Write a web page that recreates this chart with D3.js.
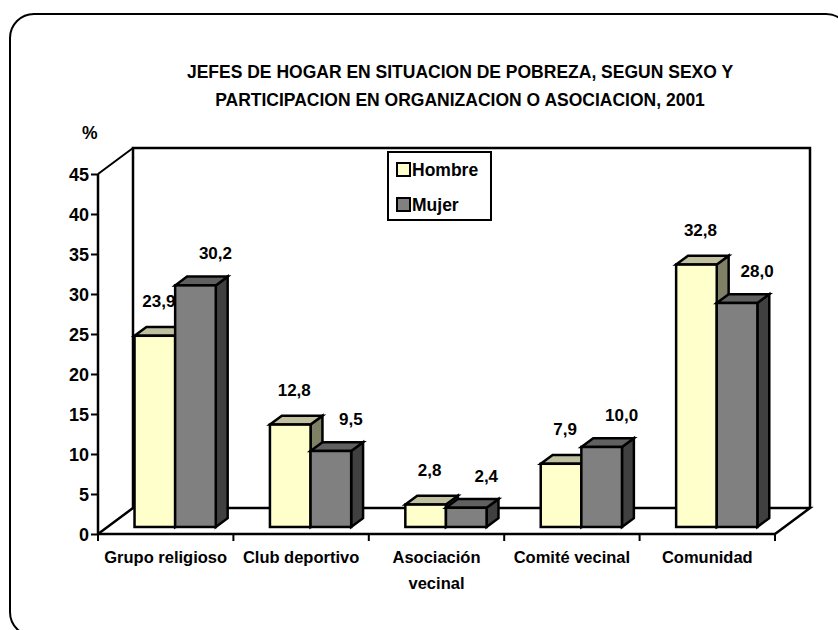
<!DOCTYPE html>
<html>
<head>
<meta charset="utf-8">
<script src="https://cdn.jsdelivr.net/npm/d3@7"></script>
<style>
  body { margin: 0; background: #fff; }
  text { font-family: "Liberation Sans", Arial, sans-serif; font-weight: bold; fill: #000; }
</style>
</head>
<body>
<script>
// data
var categories = ["Grupo religioso", "Club deportivo", "Asociación vecinal", "Comité vecinal", "Comunidad"];
var series = ["Hombre", "Mujer"];
var hombre = [23.9, 12.8, 2.8, 7.9, 32.8];
var mujer = [30.2, 9.5, 2.4, 10.0, 28.0];
var yTicks = [0, 5, 10, 15, 20, 25, 30, 35, 40, 45];
var title = ["JEFES DE HOGAR EN SITUACION DE POBREZA, SEGUN SEXO Y",
             "PARTICIPACION EN ORGANIZACION O ASOCIACION, 2001"];

// colours: front, top, side
var shades = {
  Hombre: ["#FFFFCC", "#C0C0A0", "#808066"],
  Mujer: ["#808080", "#606060", "#404040"]
};

var W = 838, H = 630;
var svg = d3.select("body").append("svg")
  .attr("width", W).attr("height", H);

// outer frame
svg.append("rect")
  .attr("x", 10).attr("y", 14)
  .attr("width", 840).attr("height", 622)
  .attr("rx", 24).attr("ry", 24)
  .attr("fill", "none").attr("stroke", "#000").attr("stroke-width", 2);

// plot geometry (front face) and wall depth
var x0 = 98, x1 = 775, yBase = 534, yTop = 174;
var DX = 35, DY = -26;

var x = d3.scaleBand().domain(categories).range([x0, x1]);
var y = d3.scaleLinear().domain([0, 45]).range([yBase, yTop]);

// walls
var g = svg.append("g");
g.append("path")
  .attr("d", "M" + (x0 + DX) + "," + (yBase + DY) + "V" + (yTop + DY) + "H" + (x1 + DX) + "V" + (yBase + DY))
  .attr("fill", "none").attr("stroke", "#000").attr("stroke-width", 2.5);
// left wall top diagonal
g.append("line")
  .attr("x1", x0).attr("y1", yTop).attr("x2", x0 + DX).attr("y2", yTop + DY)
  .attr("stroke", "#000").attr("stroke-width", 2);
// floor
g.append("path")
  .attr("d", "M" + x0 + "," + yBase + "L" + (x0 + DX) + "," + (yBase + DY) + "H" + (x1 + DX) + "L" + x1 + "," + yBase)
  .attr("fill", "none").attr("stroke", "#000").attr("stroke-width", 2.5);

// bars
var frontF = 0.27, depthF = 0.34;
var bdx = DX * depthF, bdy = DY * depthF;
var groupW = x.bandwidth() * 0.6;
var xs = d3.scaleBand().domain(series).range([0, groupW]);
var vals = { Hombre: hombre, Mujer: mujer };

var bars = [];
categories.forEach(function(c, i) {
  series.forEach(function(s) {
    bars.push({ cat: c, s: s, v: vals[s][i] });
  });
});

var barG = svg.append("g");
bars.forEach(function(d) {
  var bx = x(d.cat) + (x.bandwidth() - groupW) / 2 + xs(d.s) + DX * frontF;
  var bw = xs.bandwidth();
  var by0 = y(0) + DY * frontF;
  var by1 = y(d.v) + DY * frontF;
  d.bx = bx; d.bw = bw; d.by1 = by1;
  var col = shades[d.s];
  var bg = barG.append("g").attr("stroke", "#000").attr("stroke-width", 2.5).attr("stroke-linejoin", "miter");
  // side
  bg.append("path")
    .attr("d", "M" + (bx + bw) + "," + by0 + "V" + by1 + "l" + bdx + "," + bdy + "V" + (by0 + bdy) + "Z")
    .attr("fill", col[2]);
  // top
  bg.append("path")
    .attr("d", "M" + bx + "," + by1 + "l" + bdx + "," + bdy + "h" + bw + "l" + (-bdx) + "," + (-bdy) + "Z")
    .attr("fill", col[1]);
  // front
  bg.append("rect")
    .attr("x", bx).attr("y", by1).attr("width", bw).attr("height", by0 - by1)
    .attr("fill", col[0]);
});

// value labels
svg.append("g").selectAll("text").data(bars).join("text")
  .attr("x", function(d) { return d.bx + d.bw / 2 + (d.s === "Hombre" ? 4 : 20); })
  .attr("y", function(d) { return d.by1 - (d.s === "Hombre" ? 29 : 26); })
  .attr("text-anchor", "middle")
  .attr("font-size", 17)
  .text(function(d) { return d3.format(".1f")(d.v).replace(".", ","); });

// y axis
var yAxis = svg.append("g").attr("transform", "translate(" + x0 + ",0)")
  .call(d3.axisLeft(y).tickValues(yTicks).tickSize(7).tickPadding(2));
yAxis.select(".domain").attr("stroke-width", 2.5).attr("d", "M0," + yTop + "V" + yBase);
yAxis.selectAll(".tick line").attr("stroke-width", 2);
yAxis.selectAll(".tick text").attr("font-size", 18).attr("font-family", null).attr("dy", "0.36em");
yAxis.attr("font-family", null).attr("font-size", null);

// x axis front line with ticks at band edges
var xAxis = svg.append("g").attr("transform", "translate(0," + yBase + ")");
xAxis.append("line").attr("x1", x0).attr("x2", x1).attr("stroke", "#000").attr("stroke-width", 2.5);
xAxis.selectAll("line.tk").data(categories).join("line")
  .attr("class", "tk")
  .attr("x1", function(d) { return x(d) + x.bandwidth(); })
  .attr("x2", function(d) { return x(d) + x.bandwidth(); })
  .attr("y1", 0).attr("y2", 7)
  .attr("stroke", "#000").attr("stroke-width", 2);
xAxis.append("line").attr("x1", x0).attr("x2", x0).attr("y1", 0).attr("y2", 7)
  .attr("stroke", "#000").attr("stroke-width", 2);

var catLabels = xAxis.selectAll("text.cat").data(categories).join("text")
  .attr("class", "cat")
  .attr("text-anchor", "middle")
  .attr("font-size", 16.5)
  .attr("x", function(d) { return x(d) + x.bandwidth() / 2; })
  .attr("y", 29);
catLabels.each(function(d) {
  var t = d3.select(this);
  var words = d.length > 16 ? d.split(" ") : [d];
  words.forEach(function(w, k) {
    t.append("tspan").attr("x", t.attr("x")).attr("dy", k ? 26 : 0).text(w);
  });
});

// title
svg.append("g").selectAll("text").data(title).join("text")
  .attr("x", 460).attr("y", function(d, i) { return 78 + i * 28; })
  .attr("text-anchor", "middle").attr("font-size", 17.5)
  .text(function(d) { return d; });

svg.append("text").attr("x", 82).attr("y", 139).attr("font-size", 17.5).text("%");

// legend
var lg = svg.append("g").attr("transform", "translate(388,152)");
lg.append("rect").attr("width", 103).attr("height", 68)
  .attr("fill", "#fff").attr("stroke", "#000").attr("stroke-width", 2);
var li = lg.selectAll("g").data(series).join("g")
  .attr("transform", function(d, i) { return "translate(9," + (11 + i * 35) + ")"; });
li.append("rect").attr("width", 13).attr("height", 13)
  .attr("fill", function(d) { return shades[d][0]; })
  .attr("stroke", "#000").attr("stroke-width", 2);
li.append("text").attr("x", 15).attr("y", 13).attr("font-size", 17.5).text(function(d) { return d; });
</script>
</body>
</html>
